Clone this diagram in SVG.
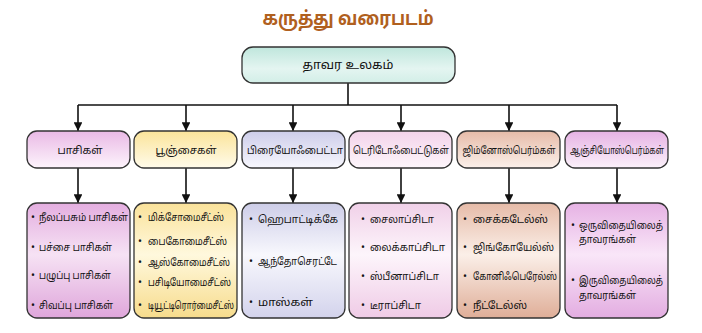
<svg xmlns="http://www.w3.org/2000/svg" width="702" height="333" viewBox="0 0 702 333">
<defs>
<linearGradient id="gRoot" x1="0" y1="0" x2="0" y2="1"><stop offset="0" stop-color="#bfe6dc"/><stop offset="0.6" stop-color="#e4f5f1"/><stop offset="1" stop-color="#d2eee7"/></linearGradient>
<linearGradient id="c1" x1="0" y1="0" x2="0" y2="1"><stop offset="0" stop-color="#e9b9e5"/><stop offset="1" stop-color="#fdf4fc"/></linearGradient>
<linearGradient id="c2" x1="0" y1="0" x2="0" y2="1"><stop offset="0" stop-color="#fbe49a"/><stop offset="1" stop-color="#fffbea"/></linearGradient>
<linearGradient id="c3" x1="0" y1="0" x2="0" y2="1"><stop offset="0" stop-color="#cdcdea"/><stop offset="1" stop-color="#f7f7fd"/></linearGradient>
<linearGradient id="c4" x1="0" y1="0" x2="0" y2="1"><stop offset="0" stop-color="#f3d3ea"/><stop offset="1" stop-color="#fdf6fb"/></linearGradient>
<linearGradient id="c5" x1="0" y1="0" x2="0" y2="1"><stop offset="0" stop-color="#e6bba8"/><stop offset="1" stop-color="#fbf0ea"/></linearGradient>
<linearGradient id="c6" x1="0" y1="0" x2="0" y2="1"><stop offset="0" stop-color="#e6b2e4"/><stop offset="1" stop-color="#fbf1fa"/></linearGradient>
<linearGradient id="d1" x1="0" y1="0" x2="0" y2="1"><stop offset="0" stop-color="#e4aee0"/><stop offset="0.45" stop-color="#f6e2f4"/><stop offset="1" stop-color="#dfa6db"/></linearGradient>
<linearGradient id="d2" x1="0" y1="0" x2="0" y2="1"><stop offset="0" stop-color="#fae29a"/><stop offset="0.45" stop-color="#fff8dd"/><stop offset="1" stop-color="#f7dc8c"/></linearGradient>
<linearGradient id="d3" x1="0" y1="0" x2="0" y2="1"><stop offset="0" stop-color="#cdcde8"/><stop offset="0.45" stop-color="#f8f8fd"/><stop offset="1" stop-color="#d3d3ec"/></linearGradient>
<linearGradient id="d4" x1="0" y1="0" x2="0" y2="1"><stop offset="0" stop-color="#f0d0e8"/><stop offset="0.45" stop-color="#fdf5fb"/><stop offset="1" stop-color="#efcbe6"/></linearGradient>
<linearGradient id="d5" x1="0" y1="0" x2="0" y2="1"><stop offset="0" stop-color="#e6bba8"/><stop offset="0.45" stop-color="#fbefe8"/><stop offset="1" stop-color="#dfae98"/></linearGradient>
<linearGradient id="d6" x1="0" y1="0" x2="0" y2="1"><stop offset="0" stop-color="#e6b2e4"/><stop offset="0.45" stop-color="#f9e6f8"/><stop offset="1" stop-color="#e3ade1"/></linearGradient>
<marker id="arr" viewBox="0 0 10 10" refX="10" refY="5" markerWidth="5.5" markerHeight="5.5" orient="auto" markerUnits="strokeWidth"><path d="M0,0 L10,5 L0,10 Z" fill="#111"/></marker>
</defs>
<style>
.box{stroke:#333;stroke-width:1.3}
.t{font-family:"Noto Sans Tamil","Latha","Noto Sans","Liberation Sans",sans-serif;font-size:10.5px;fill:#111}
.r{font-size:12px}
.c{text-anchor:middle}
.title{font-family:"Noto Sans Tamil","Noto Sans","Liberation Sans",sans-serif;font-size:19px;font-weight:bold;fill:#b0601e;text-anchor:middle}
.ln{stroke:#111;stroke-width:1.6;fill:none}
</style>
<text class="title" x="348" y="25" textLength="171" lengthAdjust="spacingAndGlyphs">கருத்து வரைபடம்</text>

<g id="connectors">
<path class="ln" d="M348,83 V105"/>
<path class="ln" d="M78,105 H617"/>
<path class="ln" d="M78,105 V131" marker-end="url(#arr)"/>
<path class="ln" d="M186,105 V131" marker-end="url(#arr)"/>
<path class="ln" d="M293,105 V131" marker-end="url(#arr)"/>
<path class="ln" d="M401,105 V131" marker-end="url(#arr)"/>
<path class="ln" d="M509,105 V131" marker-end="url(#arr)"/>
<path class="ln" d="M617,105 V131" marker-end="url(#arr)"/>
<path class="ln" d="M78,168 V203" marker-end="url(#arr)"/>
<path class="ln" d="M186,168 V203" marker-end="url(#arr)"/>
<path class="ln" d="M293,168 V203" marker-end="url(#arr)"/>
<path class="ln" d="M401,168 V203" marker-end="url(#arr)"/>
<path class="ln" d="M509,168 V203" marker-end="url(#arr)"/>
<path class="ln" d="M617,168 V203" marker-end="url(#arr)"/>
</g>

<g id="root">
<rect class="box" x="242" y="47" width="213" height="36" rx="11" fill="url(#gRoot)"/>
<text class="t r c" x="348" y="69" textLength="91" lengthAdjust="spacingAndGlyphs">தாவர உலகம்</text>
</g>

<g id="cat1"><rect class="box" x="27" y="131" width="103" height="37" rx="10" fill="url(#c1)"/><text class="t c" x="80" y="154" textLength="45" lengthAdjust="spacingAndGlyphs">பாசிகள்</text></g>
<g id="cat2"><rect class="box" x="134" y="131" width="103" height="37" rx="10" fill="url(#c2)"/><text class="t c" x="186" y="154" textLength="61" lengthAdjust="spacingAndGlyphs">பூஞ்சைகள்</text></g>
<g id="cat3"><rect class="box" x="242" y="131" width="103" height="37" rx="10" fill="url(#c3)"/><text class="t c" x="295" y="154" textLength="96" lengthAdjust="spacingAndGlyphs">பிரையோஃபைட்டா</text></g>
<g id="cat4"><rect class="box" x="349" y="131" width="103" height="37" rx="10" fill="url(#c4)"/><text class="t c" x="401" y="154" textLength="96" lengthAdjust="spacingAndGlyphs">டெரிடோஃபைட்டுகள்</text></g>
<g id="cat5"><rect class="box" x="457" y="131" width="103" height="37" rx="10" fill="url(#c5)"/><text class="t c" x="509" y="154" textLength="93" lengthAdjust="spacingAndGlyphs">ஜிம்னோஸ்பெர்ம்கள்</text></g>
<g id="cat6"><rect class="box" x="565" y="131" width="103" height="37" rx="10" fill="url(#c6)"/><text class="t c" x="617" y="154" textLength="94" lengthAdjust="spacingAndGlyphs">ஆஞ்சியோஸ்பெர்ம்கள்</text></g>

<g id="det1"><rect class="box" x="27" y="203" width="103" height="115" rx="10" fill="url(#d1)"/>
<text class="t" x="31" y="221">•</text><text class="t" x="39" y="221" textLength="89" lengthAdjust="spacingAndGlyphs">நீலப்பசும் பாசிகள்</text>
<text class="t" x="31" y="251">•</text><text class="t" x="39" y="251" textLength="73" lengthAdjust="spacingAndGlyphs">பச்சை பாசிகள்</text>
<text class="t" x="31" y="279">•</text><text class="t" x="39" y="279" textLength="72" lengthAdjust="spacingAndGlyphs">பழுப்பு பாசிகள்</text>
<text class="t" x="31" y="309">•</text><text class="t" x="39" y="309" textLength="74" lengthAdjust="spacingAndGlyphs">சிவப்பு பாசிகள்</text>
</g>
<g id="det2"><rect class="box" x="134" y="203" width="103" height="115" rx="10" fill="url(#d2)"/>
<text class="t" x="138" y="221">•</text><text class="t" x="148" y="221" textLength="76" lengthAdjust="spacingAndGlyphs">மிக்சோமைசீட்ஸ்</text>
<text class="t" x="138" y="245">•</text><text class="t" x="148" y="245" textLength="79" lengthAdjust="spacingAndGlyphs">பைகோமைசீட்ஸ்</text>
<text class="t" x="138" y="266">•</text><text class="t" x="148" y="266" textLength="82" lengthAdjust="spacingAndGlyphs">ஆஸ்கோமைசீட்ஸ்</text>
<text class="t" x="138" y="286">•</text><text class="t" x="148" y="286" textLength="83" lengthAdjust="spacingAndGlyphs">பசிடியோமைசீட்ஸ்</text>
<text class="t" x="138" y="309">•</text><text class="t" x="148" y="309" textLength="86" lengthAdjust="spacingAndGlyphs">டியூட்டிரொர்மைசீட்ஸ்</text>
</g>
<g id="det3"><rect class="box" x="242" y="203" width="103" height="115" rx="10" fill="url(#d3)"/>
<text class="t" x="249" y="223">•</text><text class="t" x="258" y="223" textLength="80" lengthAdjust="spacingAndGlyphs">ஹெபாட்டிக்கே</text>
<text class="t" x="249" y="265">•</text><text class="t" x="258" y="265" textLength="79" lengthAdjust="spacingAndGlyphs">ஆந்தோசெரட்டே</text>
<text class="t" x="249" y="306">•</text><text class="t" x="258" y="306" textLength="55" lengthAdjust="spacingAndGlyphs">மாஸ்கள்</text>
</g>
<g id="det4"><rect class="box" x="349" y="203" width="103" height="115" rx="10" fill="url(#d4)"/>
<text class="t" x="361" y="223">•</text><text class="t" x="370" y="223" textLength="64" lengthAdjust="spacingAndGlyphs">சைலாப்சிடா</text>
<text class="t" x="361" y="251">•</text><text class="t" x="370" y="251" textLength="75" lengthAdjust="spacingAndGlyphs">லைக்காப்சிடா</text>
<text class="t" x="361" y="280">•</text><text class="t" x="370" y="280" textLength="69" lengthAdjust="spacingAndGlyphs">ஸ்பீனாப்சிடா</text>
<text class="t" x="361" y="309">•</text><text class="t" x="370" y="309" textLength="51" lengthAdjust="spacingAndGlyphs">டீராப்சிடா</text>
</g>
<g id="det5"><rect class="box" x="457" y="203" width="103" height="115" rx="10" fill="url(#d5)"/>
<text class="t" x="463" y="223">•</text><text class="t" x="473" y="223" textLength="75" lengthAdjust="spacingAndGlyphs">சைக்கடேல்ஸ்</text>
<text class="t" x="463" y="251">•</text><text class="t" x="473" y="251" textLength="81" lengthAdjust="spacingAndGlyphs">ஜிங்கோயேல்ஸ்</text>
<text class="t" x="463" y="280">•</text><text class="t" x="473" y="280" textLength="84" lengthAdjust="spacingAndGlyphs">கோனிஃபெரேல்ஸ்</text>
<text class="t" x="463" y="309">•</text><text class="t" x="473" y="309" textLength="54" lengthAdjust="spacingAndGlyphs">நீட்டேல்ஸ்</text>
</g>
<g id="det6"><rect class="box" x="565" y="203" width="103" height="115" rx="10" fill="url(#d6)"/>
<text class="t" x="571" y="229">•</text><text class="t" x="579" y="229" textLength="84" lengthAdjust="spacingAndGlyphs">ஒருவிதையிலைத்</text>
<text class="t" x="579" y="243" textLength="57" lengthAdjust="spacingAndGlyphs">தாவரங்கள்</text>
<text class="t" x="571" y="284">•</text><text class="t" x="579" y="284" textLength="84" lengthAdjust="spacingAndGlyphs">இருவிதையிலைத்</text>
<text class="t" x="579" y="299" textLength="57" lengthAdjust="spacingAndGlyphs">தாவரங்கள்</text>
</g>
</svg>
